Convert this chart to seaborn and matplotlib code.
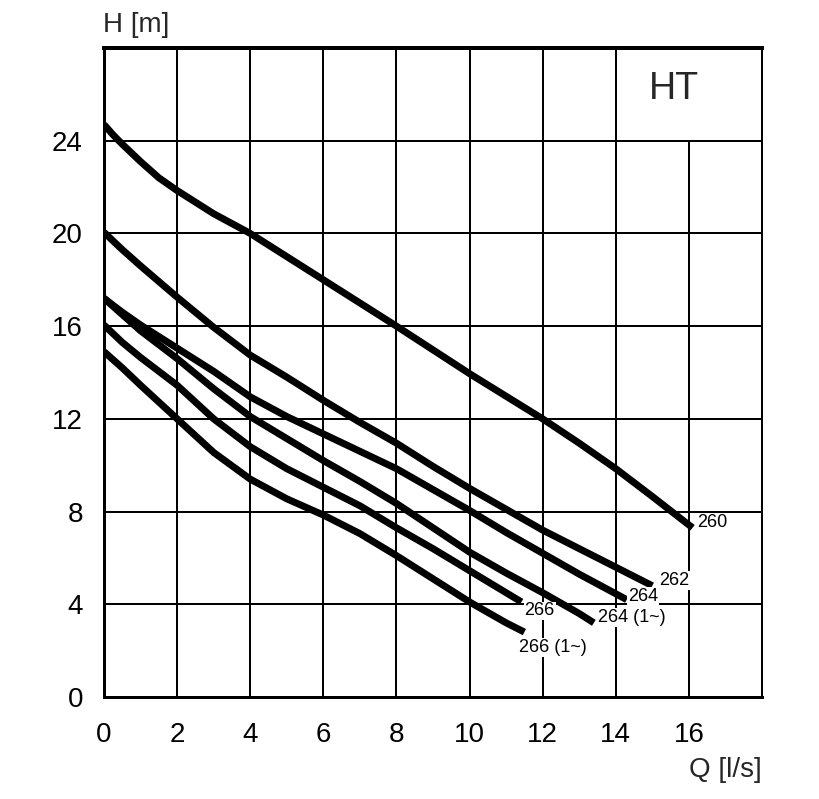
import matplotlib
matplotlib.use("Agg")
import matplotlib.pyplot as plt
import seaborn as sns
import pandas as pd

# ---- data ----
q_260 = [0, 0.25, 0.5, 1, 1.5, 2, 3, 4, 5, 6, 7, 8, 10, 12, 13, 14, 15, 16.1]
h_260 = [24.7, 24.25, 23.85, 23.1, 22.4, 21.85, 20.85, 20.0, 19.0, 18.0, 17.0, 16.0, 13.95, 12.0, 10.95, 9.85, 8.65, 7.3]

q_262 = [0, 0.5, 1, 2, 3, 4, 5, 6, 7, 8, 9, 10, 11, 12, 13, 14, 15.0]
h_262 = [20.05, 19.3, 18.6, 17.25, 15.95, 14.75, 13.8, 12.8, 11.85, 10.95, 9.95, 9.0, 8.1, 7.2, 6.4, 5.6, 4.8]

q_264 = [0, 0.5, 1, 2, 3, 4, 5, 6, 7, 8, 9, 10, 11, 12, 13, 14.3]
h_264 = [17.2, 16.6, 16.05, 15.05, 14.05, 12.95, 12.1, 11.35, 10.6, 9.85, 8.95, 8.05, 7.1, 6.2, 5.3, 4.2]

q_264_1 = [0, 0.5, 1, 2, 3, 4, 5, 6, 7, 8, 9, 10, 11, 12, 13, 13.4]
h_264_1 = [17.2, 16.5, 15.8, 14.6, 13.3, 12.1, 11.15, 10.2, 9.3, 8.35, 7.3, 6.25, 5.35, 4.5, 3.6, 3.2]

q_266 = [0, 0.5, 1, 2, 3, 4, 5, 6, 7, 8, 9, 10, 11, 11.42]
h_266 = [16.05, 15.3, 14.65, 13.45, 12.0, 10.8, 9.85, 9.05, 8.25, 7.3, 6.4, 5.45, 4.5, 4.1]

q_266_1 = [0, 0.5, 1, 2, 3, 4, 5, 6, 7, 8, 9, 10, 11, 11.5]
h_266_1 = [14.9, 14.2, 13.45, 12.0, 10.55, 9.4, 8.55, 7.85, 7.05, 6.1, 5.1, 4.1, 3.2, 2.8]

curve_names = ["260", "262", "264", "264 (1~)", "266", "266 (1~)"]
curve_q = [q_260, q_262, q_264, q_264_1, q_266, q_266_1]
curve_h = [h_260, h_262, h_264, h_264_1, h_266, h_266_1]
# label offsets from curve end, in pixels (dx, dy)
label_offsets = [(5, 5), (7, 5), (1, 3), (4, 5), (3, -9), (-5, -15)]

x_ticks = [0, 2, 4, 6, 8, 10, 12, 14, 16, 18]
x_ticklabels = ["0", "2", "4", "6", "8", "10", "12", "14", "16", ""]
y_ticks = [0, 4, 8, 12, 16, 20, 24]

rows = []
for name, qs, hs in zip(curve_names, curve_q, curve_h):
    for i, (q, h) in enumerate(zip(qs, hs)):
        rows.append({"model": name, "Q": q, "H": h, "order": i})
df = pd.DataFrame(rows)

sns.set_theme(style="white")
plt.rcParams["font.family"] = ["Liberation Sans", "DejaVu Sans"]

DPI = 100
fig = plt.figure(figsize=(8.19, 7.99), dpi=DPI)
ax = fig.add_axes([104 / 819, (799 - 697) / 799, 658 / 819, 649 / 799])
PX = 72.0 / DPI  # points per pixel

ax.set_xlim(0, 18)
ax.set_ylim(0, 28)

# grid
for yv in [4, 8, 12, 16, 20, 24]:
    ax.axhline(yv, color="black", lw=2 * PX, zorder=1)
for xv in [2, 4, 6, 8, 10, 12, 14]:
    ax.axvline(xv, color="black", lw=2 * PX, zorder=1)
ax.vlines(16, 0, 24, color="black", lw=2 * PX, zorder=1)

sns.lineplot(data=df, x="Q", y="H", hue="model", units="model", estimator=None,
             sort=False, palette={n: "black" for n in curve_names}, legend=False,
             lw=7 * PX, ax=ax, zorder=3)
for ln in ax.get_lines():
    ln.set_solid_capstyle("butt")
    ln.set_solid_joinstyle("round")

for name, qs, hs, (dx, dy) in zip(curve_names, curve_q, curve_h, label_offsets):
    ax.annotate(name, xy=(qs[-1], hs[-1]), xytext=(dx * PX, dy * PX),
                textcoords="offset points", ha="left", va="center",
                fontsize=13, color="black", zorder=4,
                bbox=dict(boxstyle="square,pad=0.05", fc="white", ec="none"))

# spines
for side, w in [("left", 3), ("bottom", 3), ("top", 4), ("right", 2)]:
    ax.spines[side].set_visible(True)
    ax.spines[side].set_color("black")
    ax.spines[side].set_linewidth(w * PX)

ax.set_xticks(x_ticks)
ax.set_xticklabels(x_ticklabels)
ax.set_yticks(y_ticks)
ax.tick_params(axis="both", direction="inout", length=20 * PX, width=3 * PX,
               color="black", labelsize=20, labelcolor="black")
ax.tick_params(axis="x", pad=11)
ax.tick_params(axis="y", pad=8)
ax.set_xlabel("")
ax.set_ylabel("")

fig.text(103 / 819, 1 - 25 / 799, "H [m]", fontsize=20, ha="left", va="center")
fig.text(762 / 819, 1 - 770 / 799, "Q [l/s]", fontsize=20, ha="right", va="center")
ax.text(15.6, 26.25, "HT", fontsize=27, ha="center", va="center")

fig.savefig("out.png", dpi=DPI, facecolor="white")
